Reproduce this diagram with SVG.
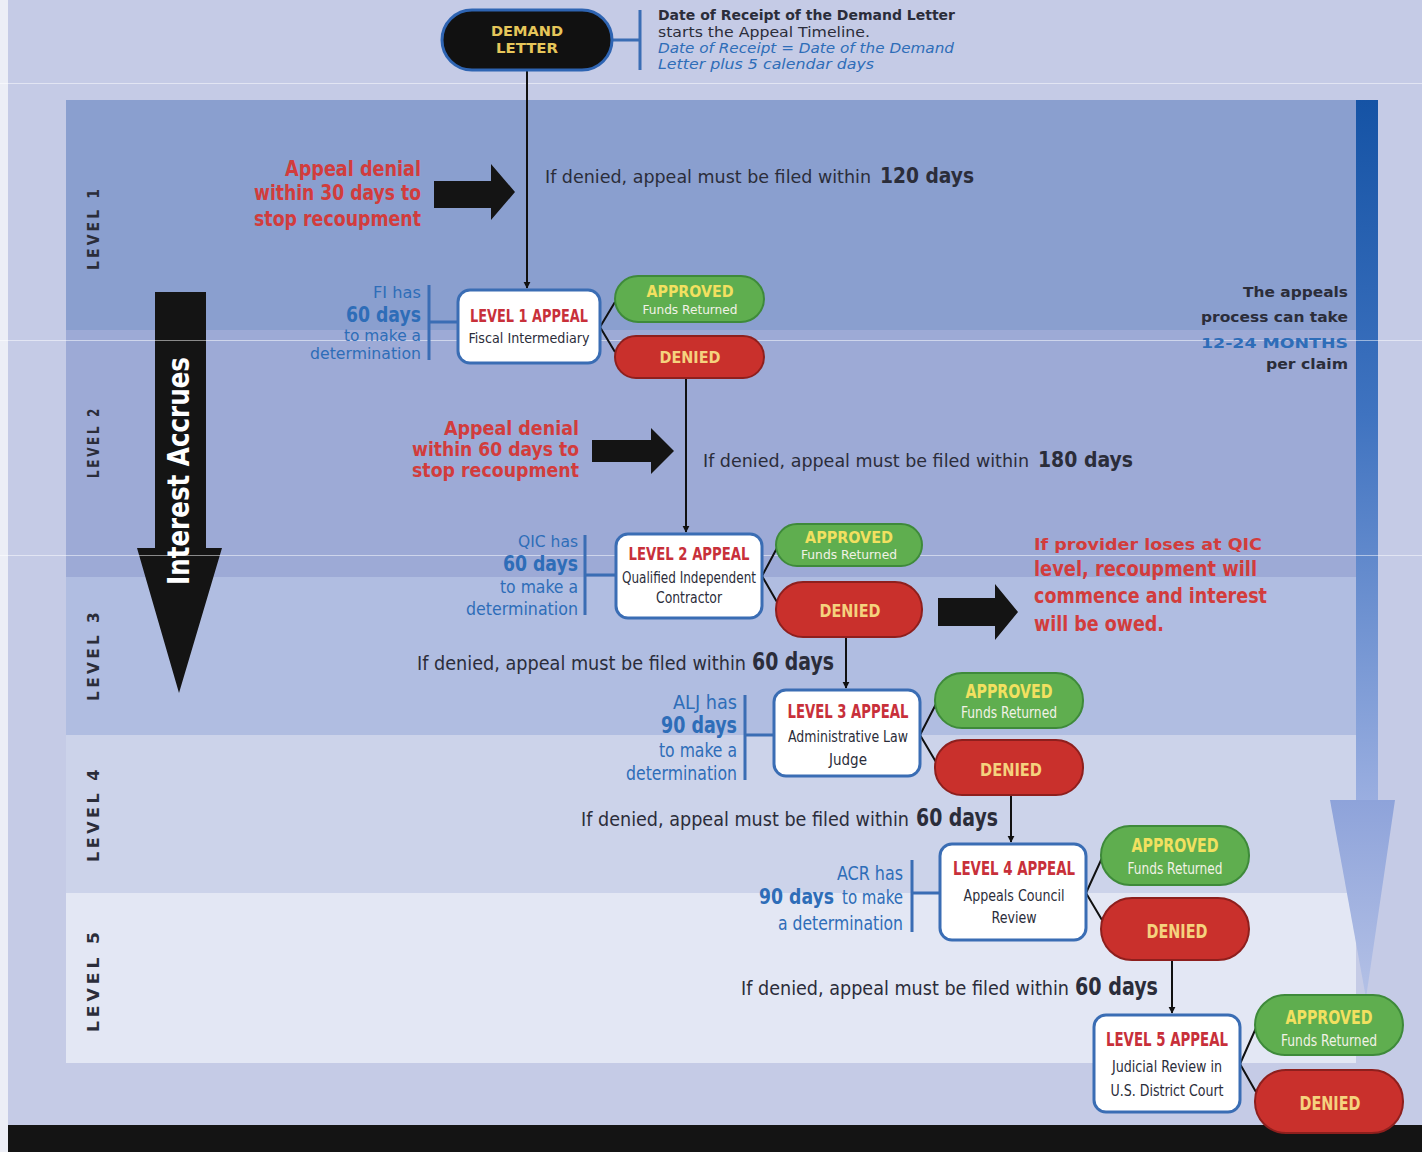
<svg xmlns="http://www.w3.org/2000/svg" width="1422" height="1152" viewBox="0 0 1422 1152">
<defs>
<style>
.cond{font-family:"DejaVu Sans Condensed","DejaVu Sans","Liberation Sans",sans-serif}
.wide{font-family:"DejaVu Sans","Liberation Sans",sans-serif}
.b{font-weight:bold}
.red{fill:#d23c3c}
.blue{fill:#2e6db8}
.dark{fill:#2b2d3a}
.lvl{font-family:"DejaVu Sans Condensed","DejaVu Sans",sans-serif;font-weight:bold;font-size:15px;fill:#2b2d3a;letter-spacing:3px}
.node{fill:#ffffff;stroke:#3a6db4;stroke-width:3}
.appr{fill:#5fae4f;stroke:#3e8a3a;stroke-width:2}
.den{fill:#c9302c;stroke:#8e1f1d;stroke-width:2}
.ttl{font-family:"DejaVu Sans Condensed","DejaVu Sans",sans-serif;font-weight:bold;fill:#c8303a}
.sub{font-family:"DejaVu Sans Condensed","DejaVu Sans",sans-serif;fill:#2b2d3a}
.ap{font-family:"DejaVu Sans Condensed","DejaVu Sans",sans-serif;font-weight:bold;fill:#f2e060}
.fr{font-family:"DejaVu Sans Condensed","DejaVu Sans",sans-serif;fill:#f2f2e6}
.dn{font-family:"DejaVu Sans Condensed","DejaVu Sans",sans-serif;font-weight:bold;fill:#f5d27e}
.bar{stroke:#3a6db4;stroke-width:3;fill:none}
.conn{stroke:#111;stroke-width:2;fill:none}
</style>
<marker id="ah" viewBox="0 0 10 10" refX="9" refY="5" markerWidth="7" markerHeight="9" markerUnits="userSpaceOnUse" orient="auto">
<path d="M0,0 L10,5 L0,10 z" fill="#111"/>
</marker>
<linearGradient id="rb" x1="0" y1="0" x2="0" y2="1">
<stop offset="0" stop-color="#1553a5"/>
<stop offset="0.45" stop-color="#3f73c0"/>
<stop offset="1" stop-color="#9aaee0"/>
</linearGradient>
<linearGradient id="rh" x1="0" y1="0" x2="0" y2="1">
<stop offset="0" stop-color="#8ea3da"/>
<stop offset="1" stop-color="#b4c1e6"/>
</linearGradient>
</defs>

<!-- background -->
<rect x="0" y="0" width="1422" height="1152" fill="#c5cbe6"/>
<rect x="0" y="0" width="8" height="1152" fill="#eceef6"/>
<rect x="66" y="100" width="1290" height="230" fill="#8a9fcf"/>
<rect x="66" y="330" width="1290" height="247" fill="#9daad6"/>
<rect x="66" y="577" width="1290" height="158" fill="#b0bde1"/>
<rect x="66" y="735" width="1290" height="158" fill="#ccd3ea"/>
<rect x="66" y="893" width="1290" height="170" fill="#e3e7f4"/>
<rect x="8" y="1125" width="1414" height="27" fill="#141414"/>

<!-- right timeline arrow -->
<g id="timeline-arrow">
<rect x="1356" y="100" width="22" height="700" fill="url(#rb)"/>
<path d="M1330,800 L1395,800 L1366,998 z" fill="url(#rh)"/>
</g>

<!-- level labels -->
<g id="level-labels">
<text class="lvl" transform="translate(99,228) rotate(-90)" text-anchor="middle" textLength="84" lengthAdjust="spacingAndGlyphs">LEVEL 1</text>
<text class="lvl" transform="translate(99,442) rotate(-90)" text-anchor="middle" textLength="72" lengthAdjust="spacingAndGlyphs">LEVEL 2</text>
<text class="lvl" transform="translate(99,655) rotate(-90)" text-anchor="middle" textLength="92" lengthAdjust="spacingAndGlyphs">LEVEL 3</text>
<text class="lvl" transform="translate(99,814) rotate(-90)" text-anchor="middle" textLength="96" lengthAdjust="spacingAndGlyphs">LEVEL 4</text>
<text class="lvl" transform="translate(99,980) rotate(-90)" text-anchor="middle" textLength="104" lengthAdjust="spacingAndGlyphs">LEVEL 5</text>
</g>

<!-- interest accrues arrow -->
<g id="interest-accrues">
<path d="M155,292 L206,292 L206,548 L222,548 L179,693 L137,548 L155,548 z" fill="#141414"/>
<text class="cond b" transform="translate(189,471) rotate(-90)" text-anchor="middle" font-size="30" fill="#ffffff" textLength="228" lengthAdjust="spacingAndGlyphs">Interest Accrues</text>
</g>

<!-- scan lines -->
<g id="scanlines" stroke="#ffffff" stroke-opacity="0.5" stroke-width="1">
<line x1="0" y1="83.5" x2="1422" y2="83.5"/>
<line x1="0" y1="340.5" x2="1422" y2="340.5"/>
<line x1="0" y1="555.5" x2="1422" y2="555.5"/>
</g>

<!-- connectors -->
<g id="connectors">
<line class="conn" x1="527" y1="70" x2="527" y2="288" marker-end="url(#ah)"/>
<line class="conn" x1="686" y1="378" x2="686" y2="532" marker-end="url(#ah)"/>
<line class="conn" x1="846" y1="637" x2="846" y2="688" marker-end="url(#ah)"/>
<line class="conn" x1="1011" y1="795" x2="1011" y2="842" marker-end="url(#ah)"/>
<line class="conn" x1="1172" y1="960" x2="1172" y2="1013" marker-end="url(#ah)"/>
<path class="conn" d="M600,327 L615,302 M600,327 L615,352"/>
<path class="conn" d="M762,576 L777,548 M762,576 L777,602"/>
<path class="conn" d="M920,735 L936,704 M920,735 L936,762"/>
<path class="conn" d="M1086,893 L1102,858 M1086,893 L1102,920"/>
<path class="conn" d="M1240,1064 L1256,1028 M1240,1064 L1256,1092"/>
<!-- brackets -->
<path class="bar" d="M612,40 L640,40 M640,10 L640,70"/>
<path class="bar" d="M429,285 L429,360 M429,322 L458,322"/>
<path class="bar" d="M585,535 L585,615 M585,575 L616,575"/>
<path class="bar" d="M745,695 L745,780 M745,735 L774,735"/>
<path class="bar" d="M912,860 L912,932 M912,893 L940,893"/>
</g>

<!-- block arrows -->
<g id="block-arrows" fill="#141414">
<path d="M434,181 L491,181 L491,164 L515,192 L491,220 L491,208 L434,208 z"/>
<path d="M592,440 L651,440 L651,428 L674,451 L651,474 L651,462 L592,462 z"/>
<path d="M938,598 L995,598 L995,584 L1018,612 L995,640 L995,626 L938,626 z"/>
</g>

<!-- demand letter -->
<g id="demand-letter">
<rect x="442" y="10" width="170" height="60" rx="30" fill="#111111" stroke="#2e64b2" stroke-width="3"/>
<text class="wide b" x="527" y="36" text-anchor="middle" font-size="14" fill="#e6c65a" textLength="72" lengthAdjust="spacingAndGlyphs">DEMAND</text>
<text class="wide b" x="527" y="53" text-anchor="middle" font-size="14" fill="#e6c65a" textLength="62" lengthAdjust="spacingAndGlyphs">LETTER</text>
</g>
<g id="demand-note">
<text class="wide b dark" x="658" y="20" font-size="14" textLength="297" lengthAdjust="spacingAndGlyphs">Date of Receipt of the Demand Letter</text>
<text class="wide dark" x="658" y="37" font-size="14" textLength="212" lengthAdjust="spacingAndGlyphs">starts the Appeal Timeline.</text>
<text class="wide blue" x="658" y="53" font-size="14" font-style="italic" textLength="296" lengthAdjust="spacingAndGlyphs">Date of Receipt = Date of the Demand</text>
<text class="wide blue" x="658" y="69" font-size="14" font-style="italic" textLength="216" lengthAdjust="spacingAndGlyphs">Letter plus 5 calendar days</text>
</g>

<!-- filing deadline texts -->
<g id="deadlines" class="cond dark">
<text x="545" y="183" font-size="18"><tspan textLength="326" lengthAdjust="spacingAndGlyphs">If denied, appeal must be filed within</tspan><tspan class="b" x="880" font-size="22" textLength="94" lengthAdjust="spacingAndGlyphs">120 days</tspan></text>
<text x="703" y="467" font-size="18"><tspan textLength="326" lengthAdjust="spacingAndGlyphs">If denied, appeal must be filed within</tspan><tspan class="b" x="1038" font-size="22" textLength="95" lengthAdjust="spacingAndGlyphs">180 days</tspan></text>
<text x="417" y="670" font-size="19.6"><tspan textLength="329" lengthAdjust="spacingAndGlyphs">If denied, appeal must be filed within</tspan><tspan class="b" x="752" font-size="24" textLength="82" lengthAdjust="spacingAndGlyphs">60 days</tspan></text>
<text x="581" y="826" font-size="19.6"><tspan textLength="328" lengthAdjust="spacingAndGlyphs">If denied, appeal must be filed within</tspan><tspan class="b" x="916" font-size="24" textLength="82" lengthAdjust="spacingAndGlyphs">60 days</tspan></text>
<text x="741" y="995" font-size="19.6"><tspan textLength="328" lengthAdjust="spacingAndGlyphs">If denied, appeal must be filed within</tspan><tspan class="b" x="1075" font-size="24" textLength="83" lengthAdjust="spacingAndGlyphs">60 days</tspan></text>
</g>

<!-- red notes -->
<g id="recoup-note-1" class="cond b red" text-anchor="end">
<text x="421" y="176" font-size="22" textLength="136" lengthAdjust="spacingAndGlyphs">Appeal denial</text>
<text x="421" y="200" font-size="22" textLength="167" lengthAdjust="spacingAndGlyphs">within 30 days to</text>
<text x="421" y="226" font-size="22" textLength="167" lengthAdjust="spacingAndGlyphs">stop recoupment</text>
</g>
<g id="recoup-note-2" class="cond b red" text-anchor="end">
<text x="579" y="435" font-size="19" textLength="135" lengthAdjust="spacingAndGlyphs">Appeal denial</text>
<text x="579" y="456" font-size="19" textLength="167" lengthAdjust="spacingAndGlyphs">within 60 days to</text>
<text x="579" y="477" font-size="19" textLength="167" lengthAdjust="spacingAndGlyphs">stop recoupment</text>
</g>
<g id="qic-note" class="cond b red">
<text class="wide b" x="1034" y="550" font-size="16" textLength="228" lengthAdjust="spacingAndGlyphs">If provider loses at QIC</text>
<text x="1034" y="576" font-size="22" textLength="223" lengthAdjust="spacingAndGlyphs">level, recoupment will</text>
<text x="1034" y="603" font-size="22" textLength="233" lengthAdjust="spacingAndGlyphs">commence and interest</text>
<text x="1034" y="631" font-size="22" textLength="130" lengthAdjust="spacingAndGlyphs">will be owed.</text>
</g>

<!-- right note -->
<g id="duration-note" class="wide b" text-anchor="end" font-size="14">
<text class="dark" x="1348" y="297" textLength="105" lengthAdjust="spacingAndGlyphs">The appeals</text>
<text class="dark" x="1348" y="322" textLength="147" lengthAdjust="spacingAndGlyphs">process can take</text>
<text class="blue" x="1348" y="348" textLength="147" lengthAdjust="spacingAndGlyphs">12-24 MONTHS</text>
<text class="dark" x="1348" y="369" textLength="82" lengthAdjust="spacingAndGlyphs">per claim</text>
</g>

<!-- left time notes -->
<g id="fi-note" class="wide blue" text-anchor="end">
<text x="421" y="298" font-size="15" textLength="48" lengthAdjust="spacingAndGlyphs">FI has</text>
<text class="b" x="421" y="322" font-size="22" textLength="75" lengthAdjust="spacingAndGlyphs">60 days</text>
<text x="421" y="341" font-size="15" textLength="77" lengthAdjust="spacingAndGlyphs">to make a</text>
<text x="421" y="359" font-size="15" textLength="111" lengthAdjust="spacingAndGlyphs">determination</text>
</g>
<g id="qic-time-note" class="wide blue" text-anchor="end">
<text x="578" y="547" font-size="15" textLength="60" lengthAdjust="spacingAndGlyphs">QIC has</text>
<text class="b" x="578" y="571" font-size="22" textLength="75" lengthAdjust="spacingAndGlyphs">60 days</text>
<text class="cond" x="578" y="593" font-size="18" textLength="78" lengthAdjust="spacingAndGlyphs">to make a</text>
<text class="cond" x="578" y="615" font-size="18" textLength="112" lengthAdjust="spacingAndGlyphs">determination</text>
</g>
<g id="alj-note" class="cond blue" text-anchor="end">
<text x="737" y="709" font-size="19" textLength="64" lengthAdjust="spacingAndGlyphs">ALJ has</text>
<text class="b" x="737" y="733" font-size="23" textLength="76" lengthAdjust="spacingAndGlyphs">90 days</text>
<text x="737" y="757" font-size="19" textLength="78" lengthAdjust="spacingAndGlyphs">to make a</text>
<text x="737" y="780" font-size="19" textLength="111" lengthAdjust="spacingAndGlyphs">determination</text>
</g>
<g id="acr-note" class="cond blue">
<text x="903" y="880" font-size="20" text-anchor="end" textLength="66" lengthAdjust="spacingAndGlyphs">ACR has</text>
<text x="759" y="904" font-size="20"><tspan class="b" font-size="20.5" textLength="75" lengthAdjust="spacingAndGlyphs">90 days</tspan><tspan x="842" textLength="61" lengthAdjust="spacingAndGlyphs">to make</tspan></text>
<text x="903" y="930" font-size="20" text-anchor="end" textLength="125" lengthAdjust="spacingAndGlyphs">a determination</text>
</g>

<!-- appeal nodes -->
<g id="level1-appeal">
<rect class="node" x="458" y="290" width="142" height="73" rx="12"/>
<text class="ttl" x="529" y="322" text-anchor="middle" font-size="17" textLength="118" lengthAdjust="spacingAndGlyphs">LEVEL 1 APPEAL</text>
<text class="sub" x="529" y="343" text-anchor="middle" font-size="14" textLength="121" lengthAdjust="spacingAndGlyphs">Fiscal Intermediary</text>
</g>
<g id="level1-approved">
<rect class="appr" x="615" y="276" width="149" height="46" rx="23"/>
<text class="ap" x="690" y="297" text-anchor="middle" font-size="16" textLength="87" lengthAdjust="spacingAndGlyphs">APPROVED</text>
<text class="fr" x="690" y="314" text-anchor="middle" font-size="13" textLength="95" lengthAdjust="spacingAndGlyphs">Funds Returned</text>
</g>
<g id="level1-denied">
<rect class="den" x="615" y="336" width="149" height="42" rx="21"/>
<text class="dn" x="690" y="363" text-anchor="middle" font-size="15" textLength="61" lengthAdjust="spacingAndGlyphs">DENIED</text>
</g>

<g id="level2-appeal">
<rect class="node" x="616" y="534" width="146" height="84" rx="12"/>
<text class="ttl" x="689" y="560" text-anchor="middle" font-size="17" textLength="121" lengthAdjust="spacingAndGlyphs">LEVEL 2 APPEAL</text>
<text class="sub" x="689" y="583" text-anchor="middle" font-size="15" textLength="134" lengthAdjust="spacingAndGlyphs">Qualified Independent</text>
<text class="sub" x="689" y="603" text-anchor="middle" font-size="15" textLength="66" lengthAdjust="spacingAndGlyphs">Contractor</text>
</g>
<g id="level2-approved">
<rect class="appr" x="776" y="524" width="146" height="42" rx="21"/>
<text class="ap" x="849" y="543" text-anchor="middle" font-size="16" textLength="88" lengthAdjust="spacingAndGlyphs">APPROVED</text>
<text class="fr" x="849" y="559" text-anchor="middle" font-size="13" textLength="96" lengthAdjust="spacingAndGlyphs">Funds Returned</text>
</g>
<g id="level2-denied">
<rect class="den" x="776" y="582" width="146" height="55" rx="27"/>
<text class="dn" x="850" y="617" text-anchor="middle" font-size="18" textLength="61" lengthAdjust="spacingAndGlyphs">DENIED</text>
</g>

<g id="level3-appeal">
<rect class="node" x="774" y="690" width="146" height="86" rx="12"/>
<text class="ttl" x="848" y="718" text-anchor="middle" font-size="19" textLength="121" lengthAdjust="spacingAndGlyphs">LEVEL 3 APPEAL</text>
<text class="sub" x="848" y="742" text-anchor="middle" font-size="15" textLength="120" lengthAdjust="spacingAndGlyphs">Administrative Law</text>
<text class="sub" x="848" y="765" text-anchor="middle" font-size="15" textLength="38" lengthAdjust="spacingAndGlyphs">Judge</text>
</g>
<g id="level3-approved">
<rect class="appr" x="935" y="673" width="148" height="55" rx="27"/>
<text class="ap" x="1009" y="698" text-anchor="middle" font-size="19" textLength="87" lengthAdjust="spacingAndGlyphs">APPROVED</text>
<text class="fr" x="1009" y="718" text-anchor="middle" font-size="15" textLength="96" lengthAdjust="spacingAndGlyphs">Funds Returned</text>
</g>
<g id="level3-denied">
<rect class="den" x="935" y="740" width="148" height="55" rx="27"/>
<text class="dn" x="1011" y="776" text-anchor="middle" font-size="18" textLength="62" lengthAdjust="spacingAndGlyphs">DENIED</text>
</g>

<g id="level4-appeal">
<rect class="node" x="940" y="844" width="146" height="96" rx="12"/>
<text class="ttl" x="1014" y="875" text-anchor="middle" font-size="19" textLength="122" lengthAdjust="spacingAndGlyphs">LEVEL 4 APPEAL</text>
<text class="sub" x="1014" y="901" text-anchor="middle" font-size="16" textLength="101" lengthAdjust="spacingAndGlyphs">Appeals Council</text>
<text class="sub" x="1014" y="923" text-anchor="middle" font-size="16" textLength="45" lengthAdjust="spacingAndGlyphs">Review</text>
</g>
<g id="level4-approved">
<rect class="appr" x="1101" y="826" width="148" height="59" rx="29"/>
<text class="ap" x="1175" y="852" text-anchor="middle" font-size="19" textLength="87" lengthAdjust="spacingAndGlyphs">APPROVED</text>
<text class="fr" x="1175" y="874" text-anchor="middle" font-size="16" textLength="95" lengthAdjust="spacingAndGlyphs">Funds Returned</text>
</g>
<g id="level4-denied">
<rect class="den" x="1101" y="898" width="148" height="62" rx="31"/>
<text class="dn" x="1177" y="938" text-anchor="middle" font-size="19" textLength="61" lengthAdjust="spacingAndGlyphs">DENIED</text>
</g>

<g id="level5-appeal">
<rect class="node" x="1094" y="1015" width="146" height="97" rx="12"/>
<text class="ttl" x="1167" y="1046" text-anchor="middle" font-size="19" textLength="122" lengthAdjust="spacingAndGlyphs">LEVEL 5 APPEAL</text>
<text class="sub" x="1167" y="1072" text-anchor="middle" font-size="16" textLength="110" lengthAdjust="spacingAndGlyphs">Judicial Review in</text>
<text class="sub" x="1167" y="1096" text-anchor="middle" font-size="16" textLength="113" lengthAdjust="spacingAndGlyphs">U.S. District Court</text>
</g>
<g id="level5-approved">
<rect class="appr" x="1255" y="995" width="148" height="60" rx="30"/>
<text class="ap" x="1329" y="1024" text-anchor="middle" font-size="19" textLength="87" lengthAdjust="spacingAndGlyphs">APPROVED</text>
<text class="fr" x="1329" y="1046" text-anchor="middle" font-size="16" textLength="96" lengthAdjust="spacingAndGlyphs">Funds Returned</text>
</g>
<g id="level5-denied">
<rect class="den" x="1255" y="1070" width="148" height="63" rx="31"/>
<text class="dn" x="1330" y="1110" text-anchor="middle" font-size="19" textLength="61" lengthAdjust="spacingAndGlyphs">DENIED</text>
</g>
</svg>
